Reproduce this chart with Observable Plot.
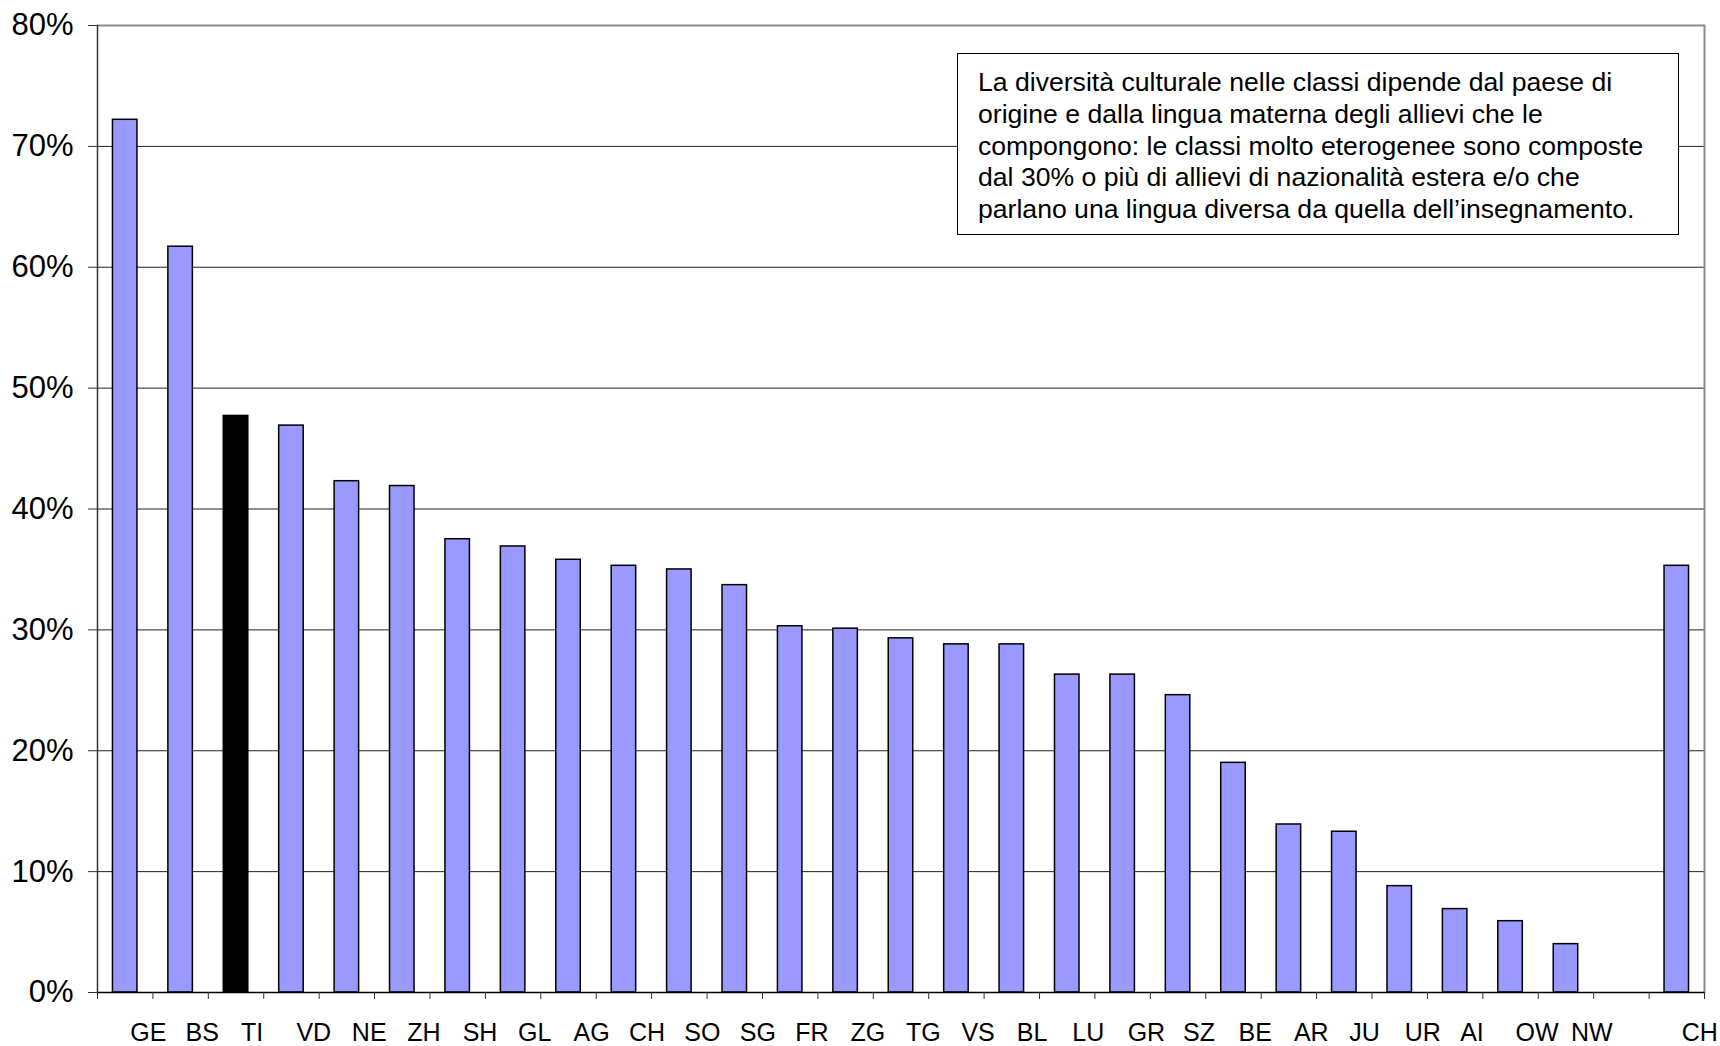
<!DOCTYPE html>
<html>
<head>
<meta charset="utf-8">
<script src="https://cdn.jsdelivr.net/npm/d3@7"></script>
<script src="https://cdn.jsdelivr.net/npm/@observablehq/plot@0.6"></script>
<style>
  html, body { margin: 0; padding: 0; background: #fff; }
  #wrap { position: relative; width: 1720px; height: 1046px; font-family: "Liberation Sans", Arial, sans-serif; }
  #note {
    position: absolute; left: 957px; top: 53px; width: 722px; height: 182px;
    box-sizing: border-box; border: 1.5px solid #000; background: #fff;
    padding: 13px 0 0 20px; font-size: 26.6px; line-height: 31.8px; color: #000;
    white-space: nowrap;
  }
</style>
</head>
<body>
<div id="wrap"><div id="chart"></div><div id="note"></div></div>
<script>
// Categories (cantons), blank slot before the Swiss total
const cantons = ["GE","BS","TI","VD","NE","ZH","SH","GL","AG","CH","SO","SG","FR","ZG","TG","VS","BL","LU","GR","SZ","BE","AR","JU","UR","AI","OW","NW","","CH"];
// Share of very heterogeneous classes (%)
const values  = [72.2, 61.7, 47.7, 46.9, 42.3, 41.9, 37.5, 36.9, 35.8, 35.3, 35.0, 33.7, 30.3, 30.1, 29.3, 28.8, 28.8, 26.3, 26.3, 24.6, 19.0, 13.9, 13.3, 8.8, 6.9, 5.9, 4.0, null, 35.3];
const highlight = "TI";
const yTicks = [0, 10, 20, 30, 40, 50, 60, 70, 80];
const noteLines = [
  "La diversità culturale nelle classi dipende dal paese di",
  "origine e dalla lingua materna degli allievi che le",
  "compongono: le classi molto eterogenee sono composte",
  "dal 30% o più di allievi di nazionalità estera e/o che",
  "parlano una lingua diversa da quella dell’insegnamento."
];

const W = 1720, H = 1046, mL = 97, mR = 16, mT = 25, mB = 54;
const idx = d3.range(cantons.length);
const data = idx.map(i => ({i, canton: cantons[i], value: values[i]})).filter(d => d.value != null);
const step = (W - mL - mR) / cantons.length;
const barW = 24.5;
const inset = (step - barW) / 2;

const chart = Plot.plot({
  width: W, height: H,
  marginLeft: mL, marginRight: mR, marginTop: mT, marginBottom: mB,
  style: {fontFamily: "'Liberation Sans', Arial, sans-serif", background: "white", color: "black", overflow: "visible"},
  x: {type: "band", domain: idx, padding: 0, round: false, label: null},
  y: {domain: [0, 80], label: null},
  color: {type: "identity"},
  marks: [
    Plot.ruleY(yTicks.filter(t => t > 0 && t < 80), {stroke: "#222", strokeWidth: 1}),
    Plot.ruleY([80], {stroke: "#8c8c8c", strokeWidth: 2}),
    Plot.frame({anchor: "right", stroke: "#8c8c8c", strokeWidth: 2}),
    Plot.barY(data, {
      x: "i", y: "value",
      fill: d => d.canton === highlight ? "black" : "#9999ff",
      stroke: "black", strokeWidth: 1.5,
      insetLeft: inset, insetRight: inset
    }),
    Plot.frame({anchor: "left", stroke: "#333", strokeWidth: 1.5}),
    Plot.axisY({ticks: yTicks, tickFormat: d => d + "%", tickSize: 9, tickPadding: 15, fontSize: 31, stroke: "#333", label: null}),
    Plot.ruleY([0], {stroke: "black", strokeWidth: 1.5}),
    Plot.axisX({tickSize: 0, tickPadding: 31, tickFormat: i => cantons[i], textAnchor: "start", dx: 5, fontSize: 25, label: null}),
    Plot.axisX({tickSize: 7, tickFormat: () => "", dx: step / 2, stroke: "#333", label: null}),
    Plot.axisX({ticks: [0], tickSize: 7, tickFormat: () => "", dx: -step / 2, stroke: "#333", label: null})
  ]
});
document.getElementById("chart").appendChild(chart);
document.getElementById("note").innerHTML = noteLines.join("<br>");
</script>
</body>
</html>
